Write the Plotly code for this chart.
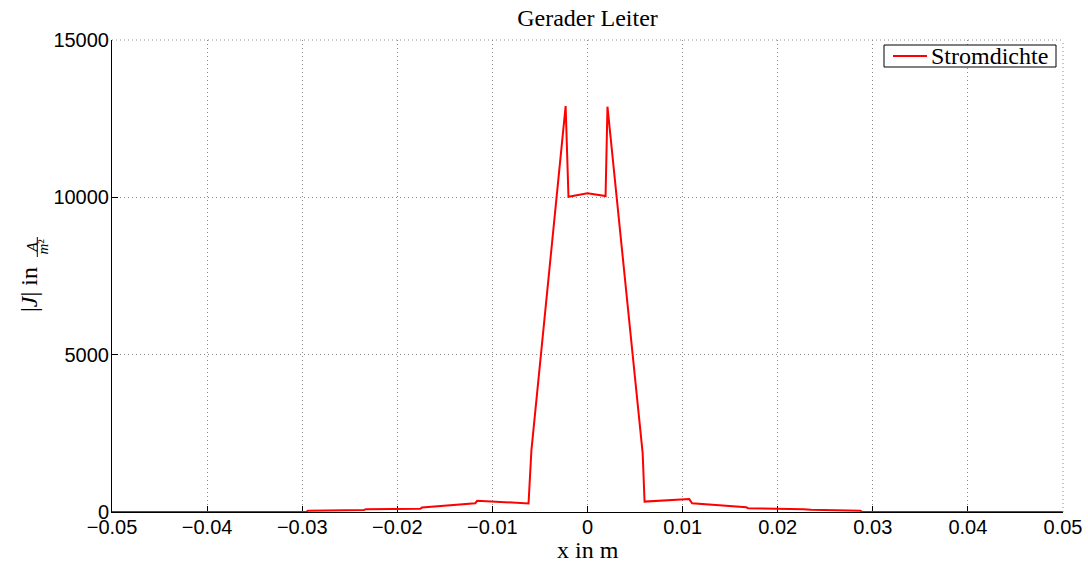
import plotly.graph_objects as go

# Data
x_m = [-0.05, -0.0296, -0.0294, -0.0235, -0.0233, -0.0176, -0.0174, -0.0118, -0.0116,
       -0.0062, -0.0059, -0.0023, -0.0020, 0.0, 0.0019, 0.0021, 0.0058, 0.0060,
       0.0107, 0.0110, 0.0167, 0.0169, 0.0227, 0.0235, 0.0287, 0.0289, 0.05]
j_density = [0, 0, 40, 65, 90, 100, 140, 280, 360,
             270, 1950, 12900, 10020, 10130, 10040, 12880, 1870, 330,
             410, 275, 150, 117, 85, 73, 40, 0, 0]

x_ticks = [-0.05, -0.04, -0.03, -0.02, -0.01, 0, 0.01, 0.02, 0.03, 0.04, 0.05]
x_tick_labels = ["\u22120.05", "\u22120.04", "\u22120.03", "\u22120.02", "\u22120.01", "0",
                 "0.01", "0.02", "0.03", "0.04", "0.05"]
y_ticks = [0, 5000, 10000, 15000]
y_tick_labels = ["0", "5000", "10000", "15000"]
series_name = "Stromdichte"

W, H = 1088, 564
L, R, T, B = 112, 25, 40, 52
pw, ph = W - L - R, H - T - B

def px_x(p):
    return (p - L) / pw

def px_y(p):
    return (H - B - p) / ph

SERIF = "Liberation Serif"
SANS = "Liberation Sans"
RED = "#ff0000"

fig = go.Figure()
fig.add_trace(go.Scatter(x=x_m, y=j_density, mode="lines", name=series_name,
                         line=dict(color=RED, width=2), showlegend=False))

axis_common = dict(showline=True, linecolor="black", linewidth=1, mirror=False,
                   ticks="inside", ticklen=6, tickcolor="black", tickwidth=1,
                   showgrid=True, gridcolor="#8a8a8a", gridwidth=1, griddash="1px,3px",
                   zeroline=False, layer="below traces", automargin=False,
                   tickfont=dict(family=SANS, size=20, color="black"))

fig.update_xaxes(range=[-0.05, 0.05], tickvals=x_ticks, ticktext=x_tick_labels,
                 ticklabelstandoff=-3, **axis_common)
fig.update_yaxes(range=[0, 15000], tickvals=y_ticks, ticktext=y_tick_labels,
                 ticklabelstandoff=-2, **axis_common)

# x-axis title
fig.add_annotation(xref="paper", yref="paper", x=px_x(587.5), y=px_y(550),
                   text="x in m", showarrow=False,
                   font=dict(family=SERIF, size=24, color="black"),
                   xanchor="center", yanchor="middle")

# top and right dotted borders (grid at range ends)
fig.add_shape(type="line", xref="paper", yref="paper", x0=0, x1=1, y0=1, y1=1,
              line=dict(color="#8a8a8a", width=1, dash="1px,3px"))
fig.add_shape(type="line", xref="paper", yref="paper", x0=1, x1=1, y0=0, y1=1,
              line=dict(color="#8a8a8a", width=1, dash="1px,3px"))

# y-axis label: |J| in A/m^2 (stacked fraction)
fig.add_annotation(xref="paper", yref="paper", x=px_x(29), y=px_y(290),
                   text="|<i>J</i>| in", textangle=-90, showarrow=False,
                   font=dict(family=SERIF, size=24, color="black"),
                   xanchor="center", yanchor="middle")
fig.add_annotation(xref="paper", yref="paper", x=px_x(31.5), y=px_y(247),
                   text="<i>A</i>", textangle=-90, showarrow=False,
                   font=dict(family=SERIF, size=15, color="black"),
                   xanchor="center", yanchor="middle")
fig.add_annotation(xref="paper", yref="paper", x=px_x(42.5), y=px_y(247),
                   text="<i>m</i>²", textangle=-90, showarrow=False,
                   font=dict(family=SERIF, size=15, color="black"),
                   xanchor="center", yanchor="middle")
fig.add_shape(type="line", xref="paper", yref="paper", x0=px_x(37.3), x1=px_x(37.3),
              y0=px_y(237), y1=px_y(257), line=dict(color="black", width=1))

# legend box (MATLAB style)
fig.add_shape(type="rect", xref="paper", yref="paper", x0=px_x(884), x1=px_x(1056),
              y0=px_y(67), y1=px_y(45), line=dict(color="black", width=1),
              fillcolor="white", layer="above")
fig.add_shape(type="line", xref="paper", yref="paper", x0=px_x(893), x1=px_x(927),
              y0=px_y(56), y1=px_y(56), line=dict(color=RED, width=2), layer="above")
fig.add_annotation(xref="paper", yref="paper", x=px_x(929), y=px_y(56),
                   text=series_name, showarrow=False,
                   font=dict(family=SERIF, size=24, color="black"),
                   xanchor="left", yanchor="middle")

fig.update_layout(
    width=W, height=H,
    margin=dict(l=L, r=R, t=T, b=B, autoexpand=False),
    paper_bgcolor="white", plot_bgcolor="white",
    title=dict(text="Gerader Leiter", x=587.5 / W, xanchor="center",
               y=1 - 18 / H, yanchor="middle",
               font=dict(family=SERIF, size=24, color="black")),
    showlegend=False,
)

fig.write_html("out.html")
